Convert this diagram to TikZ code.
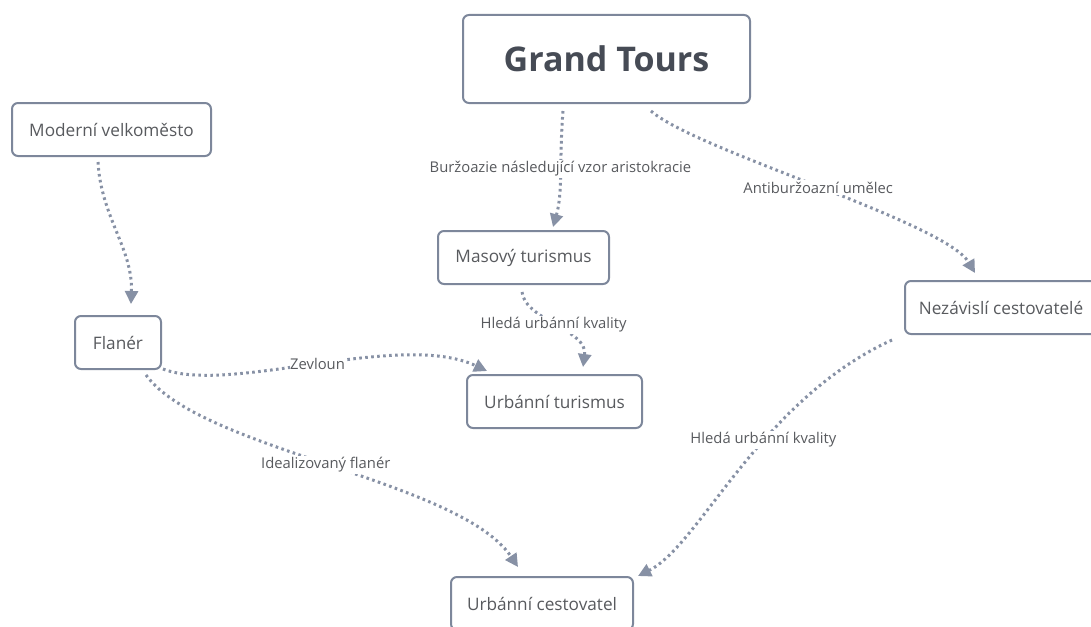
\documentclass[tikz,border=0pt]{standalone}
\usepackage{fontspec}
\setmainfont{Open Sans}
\usetikzlibrary{arrows.meta}
\definecolor{boxline}{RGB}{125,135,155}
\definecolor{edgecol}{RGB}{135,145,165}
\definecolor{txt}{RGB}{88,90,94}
\definecolor{titletxt}{RGB}{70,75,85}
\tikzset{
  concept/.style={draw=boxline, line width=2pt, rounded corners=6pt, fill=white,
    text=txt, font=\fontsize{17.2}{20}\selectfont, inner sep=0pt, minimum height=53pt},
  link/.style={draw=edgecol, line width=3pt, dash pattern=on 2.6pt off 3.4pt,
    -{Triangle[length=13pt,width=13pt,fill=edgecol]}},
  lbl/.style={fill=white, text=txt, font=\fontsize{14.8}{17}\selectfont, inner sep=1.5pt}
}
\begin{document}
\begin{tikzpicture}[x=1pt,y=-1pt]
\useasboundingbox (0,0) rectangle (1091,626);
\clip (0,0) rectangle (1091,626);
\node[concept, minimum width=287pt, minimum height=88pt, font=\fontsize{34}{40}\selectfont\bfseries, text=titletxt] (gt) at (606.5,59) {Grand Tours};
\node[concept, minimum width=199pt] (mv) at (111.5,129.5) {Moderní velkoměsto};
\node[concept, minimum width=86pt] (fl) at (118,342.5) {Flanér};
\node[concept, minimum width=171pt] (ms) at (523.5,257.5) {Masový turismus};
\node[concept, minimum width=175pt] (ut) at (554.5,401.5) {Urbánní turismus};
\node[concept, minimum width=192pt] (nz) at (1001,307.5) {Nezávislí cestovatelé};
\node[concept, minimum width=182pt] (uc) at (542,603.5) {Urbánní cestovatel};

% Moderni -> Flaner
\draw[link] ([xshift=-13.5pt,yshift=-5pt]mv.south) .. controls +(3,55) and +(2,-55) .. ([xshift=13pt,yshift=11pt]fl.north);
% Grand Tours -> Masovy
\draw[link] ([xshift=-43.5pt,yshift=-7pt]gt.south) .. controls +(-4,50) and +(10,-35) .. node[lbl, pos=0.45]{Buržoazie následující vzor aristokracie} ([xshift=29.5pt,yshift=3pt]ms.north);
% Grand Tours -> Nezavisli
\draw[link] ([xshift=44.5pt,yshift=-7pt]gt.south) .. controls (695,150) and (945,222) .. node[lbl, pos=0.5]{Antiburžoazní umělec} ([xshift=-26pt,yshift=7pt]nz.north);
% Masovy -> Urbanni turismus
\draw[link] ([xshift=-1.5pt,yshift=-7pt]ms.south) .. controls (525,320) and (588,330) .. node[lbl, pos=0.48]{Hledá urbánní kvality} ([xshift=28.5pt,yshift=7pt]ut.north);
% Flaner -> Urbanni turismus
\draw[link] ([xshift=1pt,yshift=1pt]fl.south east) .. controls (230,395) and (400,330) .. node[lbl, pos=0.5, inner sep=0.5pt]{Zevloun} ([xshift=21pt,yshift=3pt]ut.north west);
% Flaner -> Urbanni cestovatel
\draw[link] ([xshift=28pt,yshift=-5pt]fl.south) .. controls (200,450) and (460,480) .. node[lbl, pos=0.49]{Idealizovaný flanér} ([xshift=-24pt,yshift=9pt]uc.north);
% Nezavisli -> Urbanni cestovatel
\draw[link] ([xshift=-12pt,yshift=-5pt]nz.south west) .. controls (760,400) and (700,545) .. node[lbl, pos=0.4]{Hledá urbánní kvality} ([xshift=4pt,yshift=0pt]uc.north east);
\end{tikzpicture}
\end{document}
